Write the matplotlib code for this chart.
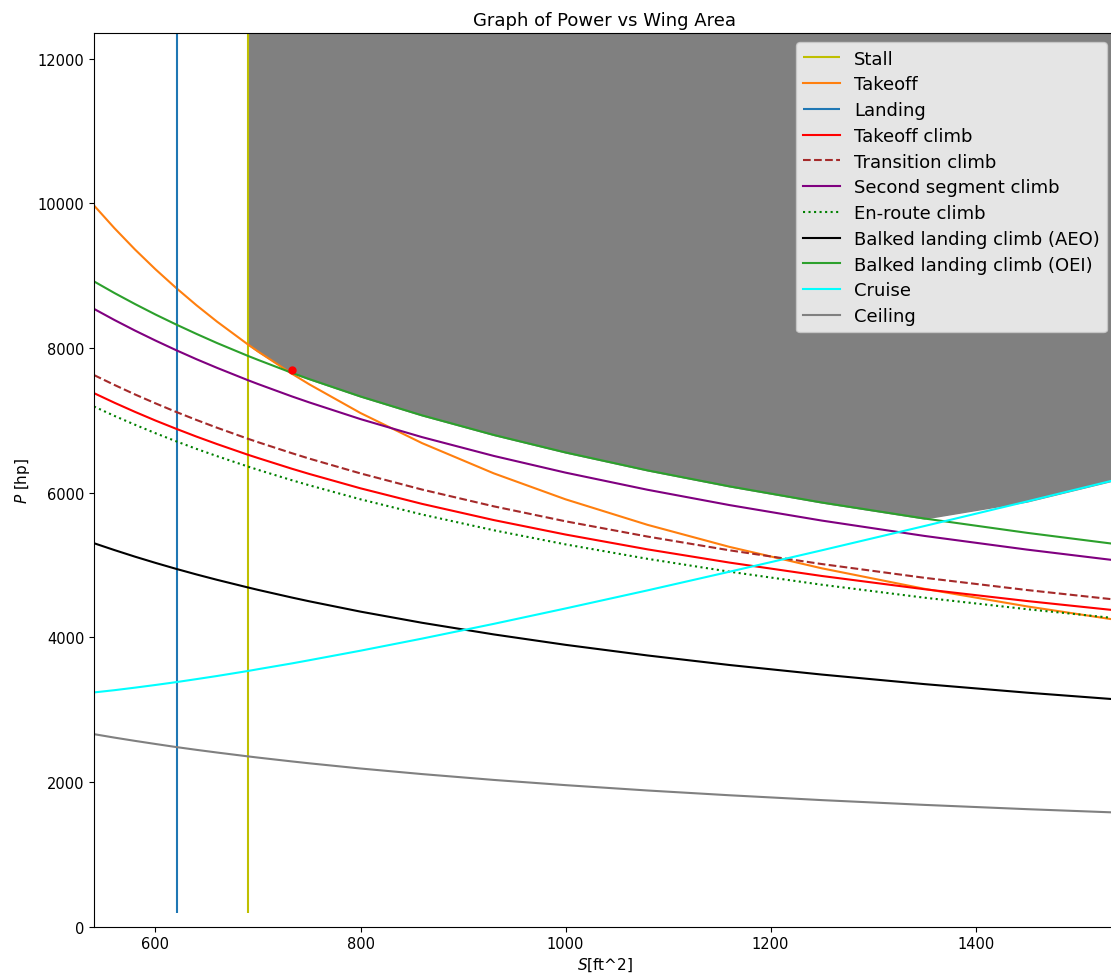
import matplotlib
matplotlib.use("Agg")
import matplotlib.pyplot as plt
import numpy as np

# wing area samples [ft^2]
S = np.array([540, 560, 580, 600, 620, 640, 660, 690, 700, 733, 750, 800, 860, 930,
              1000, 1080, 1160, 1250, 1350, 1450, 1540])

# power required per constraint [hp]
P_takeoff = [9970, 9655, 9361, 9087, 8831, 8590, 8364, 8050, 7951, 7644, 7497, 7100,
             6684, 6266, 5907, 5554, 5249, 4953, 4670, 4427, 4234]
P_takeoff_climb = [7375, 7242, 7116, 6996, 6883, 6774, 6671, 6524, 6478, 6330, 6258,
                   6059, 5844, 5620, 5420, 5215, 5032, 4847, 4664, 4501, 4367]
P_transition = [7625, 7488, 7357, 7234, 7116, 7004, 6897, 6745, 6697, 6545, 6470,
                6265, 6042, 5810, 5603, 5392, 5202, 5012, 4822, 4653, 4515]
P_second_seg = [8540, 8386, 8240, 8102, 7970, 7844, 7725, 7555, 7501, 7330, 7247,
                7016, 6767, 6507, 6276, 6039, 5827, 5613, 5401, 5212, 5057]
P_enroute = [7190, 7060, 6938, 6821, 6710, 6604, 6504, 6361, 6315, 6171, 6101,
             5907, 5697, 5479, 5284, 5084, 4906, 4726, 4547, 4388, 4258]
P_balked_aeo = [5300, 5205, 5114, 5028, 4946, 4868, 4794, 4689, 4655, 4549, 4497,
                4354, 4200, 4039, 3895, 3748, 3616, 3484, 3352, 3234, 3138]
P_balked_oei = [8920, 8759, 8607, 8462, 8325, 8194, 8068, 7891, 7835, 7656, 7569,
                7329, 7068, 6797, 6555, 6307, 6086, 5863, 5642, 5444, 5282]
P_cruise = [3237, 3268, 3303, 3340, 3379, 3421, 3464, 3533, 3558, 3638, 3682,
            3814, 3981, 4185, 4398, 4648, 4906, 5202, 5537, 5877, 6188]
P_ceiling = [2660, 2612, 2567, 2524, 2482, 2443, 2406, 2353, 2336, 2283, 2257,
             2185, 2108, 2027, 1955, 1881, 1815, 1748, 1682, 1623, 1575]

S_stall = 690
S_landing = 621

# design point
S_design = [733]
P_design = [7700]

P_top = 12350

fig = plt.figure(figsize=(11.11, 9.78), dpi=100)
ax = fig.add_axes([0.0846, 0.0516, 0.9199, 0.9133])

ax.vlines(S_stall, 190, P_top, colors='y', label='Stall')
ax.plot(S, P_takeoff, color='tab:orange', label='Takeoff')
ax.vlines(S_landing, 190, P_top, colors='tab:blue', label='Landing')
ax.plot(S, P_takeoff_climb, color='r', label='Takeoff climb')
ax.plot(S, P_transition, '--', color='brown', label='Transition climb')
ax.plot(S, P_second_seg, color='purple', label='Second segment climb')
ax.plot(S, P_enroute, ':', color='g', label='En-route climb')
ax.plot(S, P_balked_aeo, color='k', label='Balked landing climb (AEO)')
ax.plot(S, P_balked_oei, color='tab:green', label='Balked landing climb (OEI)')
ax.plot(S, P_cruise, color='cyan', label='Cruise')
ax.plot(S, P_ceiling, color='grey', label='Ceiling')

# feasible region above the governing constraints
lower = np.maximum.reduce([np.array(P_takeoff), np.array(P_balked_oei), np.array(P_cruise)])
mask = S >= S_stall
ax.fill_between(S[mask], lower[mask], P_top, color='grey', zorder=0.5)

ax.plot(S_design, P_design, 'o', color='r', markersize=5)

ax.set_xlim(540, 1537)
ax.set_ylim(0, P_top)
ax.tick_params(labelsize=10.5)
ax.set_title('Graph of Power vs Wing Area', fontsize=13)
ax.set_xlabel('$S$[ft^2]', fontsize=11, labelpad=3)
ax.set_ylabel('$P$ [hp]', fontsize=11)
ax.legend(loc='upper right', fontsize=13, labelspacing=0.43)

fig.savefig('out.png', dpi=100)
